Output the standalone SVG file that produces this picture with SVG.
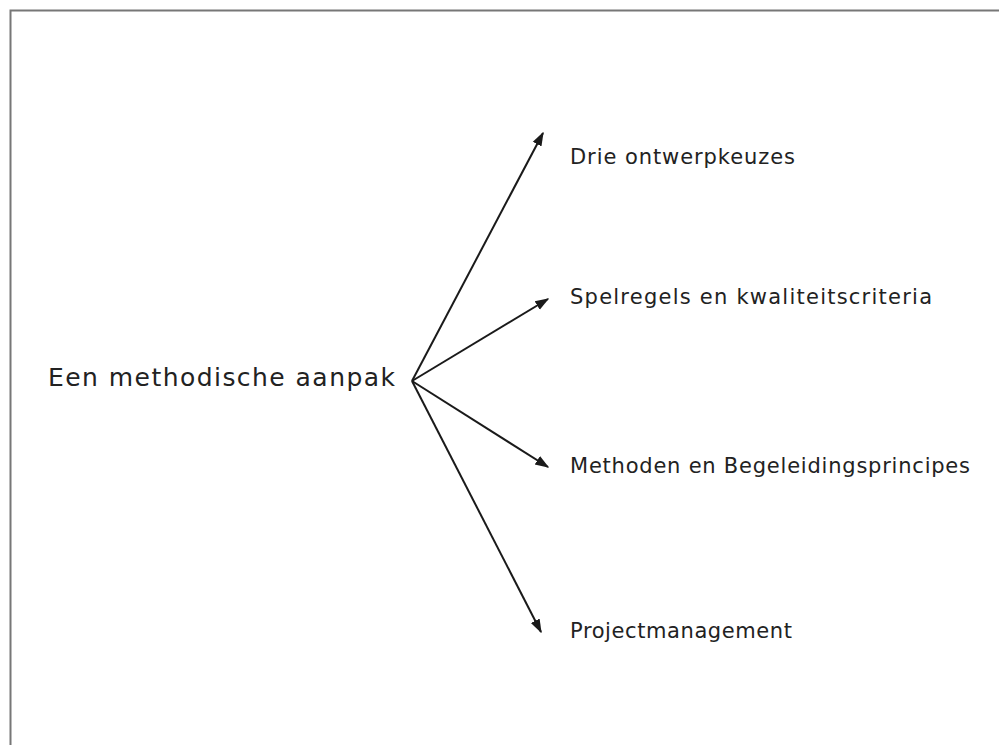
<svg xmlns="http://www.w3.org/2000/svg" width="999" height="745" viewBox="0 0 999 745">
<style>
text{font-family:"DejaVu Sans","Open Sans",sans-serif;fill:#222}
.main{font-size:25px}
.item{font-size:21px}
.c{stroke:#1a1a1a;stroke-width:2;fill:none;marker-end:url(#ah)}
</style>
<defs>
<marker id="ah" viewBox="0 0 10 10" refX="9" refY="5" markerWidth="7" markerHeight="7" markerUnits="strokeWidth" orient="auto">
<path d="M0,1.5 L10,5 L0,8.5 Z" fill="#1a1a1a"/>
</marker>
</defs>
<rect width="999" height="745" fill="#fff"/>
<path d="M10.5,745 V10.5 H999" fill="none" stroke="#777" stroke-width="2"/>
<g id="n0"><text class="main" x="48" y="386" textLength="347" lengthAdjust="spacing">Een methodische aanpak</text></g>
<g id="n1"><text class="item" x="570" y="164" textLength="225" lengthAdjust="spacing">Drie ontwerpkeuzes</text></g>
<g id="n2"><text class="item" x="570" y="304" textLength="362" lengthAdjust="spacing">Spelregels en kwaliteitscriteria</text></g>
<g id="n3"><text class="item" x="570" y="473" textLength="400" lengthAdjust="spacing">Methoden en Begeleidingsprincipes</text></g>
<g id="n4"><text class="item" x="570" y="638" textLength="222" lengthAdjust="spacing">Projectmanagement</text></g>
<g id="connectors">
<line class="c" x1="412" y1="381" x2="543" y2="133"/>
<line class="c" x1="412" y1="381" x2="548" y2="299"/>
<line class="c" x1="412" y1="381" x2="548" y2="467"/>
<line class="c" x1="412" y1="381" x2="541" y2="632"/>
</g>
</svg>
